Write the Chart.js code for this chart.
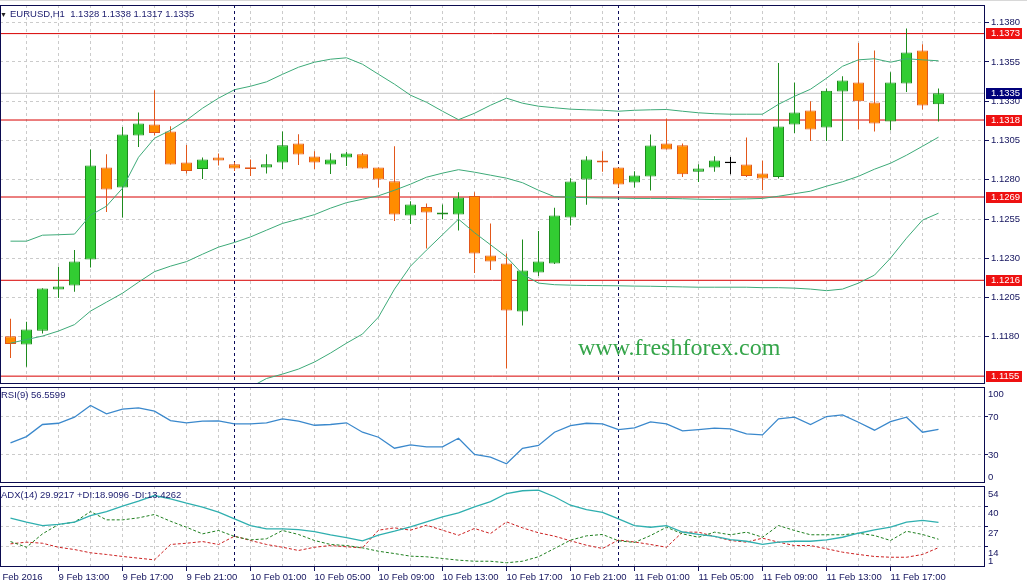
<!DOCTYPE html>
<html>
<head>
<meta charset="utf-8">
<script src="https://cdn.jsdelivr.net/npm/chart.js@4.4.1/dist/chart.umd.min.js"></script>
<style>
  html, body { margin: 0; padding: 0; background: #fff; }
  #wrap { position: relative; width: 1027px; height: 587px; overflow: hidden; font-family: 'Liberation Sans', Arial, sans-serif; border-top: 1px solid #d8d8d8; box-sizing: border-box; }
  canvas { position: absolute; left: 0; }
  #main { top: -1px; }
  #rsi { top: 384px; }
  #adx { top: 482px; }
  .lbl { position: absolute; font-size: 9.5px; line-height: 12px; color: #1c1c6e; white-space: pre; }
  #wm { position: absolute; left: 578px; top: 334px; font: 24px/24px 'Liberation Serif', 'Times New Roman', serif; color: #35a54a; white-space: pre; }
</style>
</head>
<body>
<div id="wrap">
  <canvas id="main" width="1027" height="385"></canvas>
  <canvas id="rsi" width="1027" height="98"></canvas>
  <canvas id="adx" width="1027" height="104"></canvas>
  <div class="lbl" style="left:0;top:8px;font-size:7px;color:#222">▼</div>
  <div class="lbl" style="left:10px;top:7px">EURUSD,H1  1.1328 1.1338 1.1317 1.1335</div>
  <div class="lbl" style="left:1px;top:388px">RSI(9) 56.5599</div>
  <div class="lbl" style="left:1px;top:488px">ADX(14) 29.9217 +DI:18.9096 -DI:13.4262</div>
  <div id="wm">www.freshforex.com</div>
</div>
<script>
// EURUSD H1, 9 Feb 10:00 .. 11 Feb 20:00
const opens = [1.11804,1.11752,1.11839,1.12102,1.12127,1.12293,1.12878,1.12751,1.13081,1.13151,
  1.13107,1.12910,1.12869,1.12941,1.12899,1.12880,1.12878,1.12910,1.13031,1.12948,
  1.12897,1.12941,1.12962,1.12878,1.12791,1.12572,1.12627,1.12579,1.12579,1.12697,
  1.12318,1.12267,1.11962,1.12210,1.12267,1.12560,1.12801,1.12922,1.12878,1.12782,
  1.12821,1.13030,1.13019,1.12850,1.12878,1.12910,1.12897,1.12840,1.12818,1.13151,
  1.13240,1.13132,1.13361,1.13418,1.13291,1.13170,1.13412,1.13622,1.13280];
const highs = [1.11916,1.11896,1.12110,1.12246,1.12352,1.12992,1.12962,1.13136,1.13228,1.13369,
  1.13140,1.13021,1.12941,1.12967,1.12911,1.12929,1.12962,1.13107,1.13090,1.12981,
  1.12969,1.12977,1.12970,1.12878,1.13013,1.12663,1.12649,1.12642,1.12721,1.12721,
  1.12522,1.12331,1.12420,1.12473,1.12621,1.12810,1.12950,1.12981,1.12878,1.12854,
  1.13088,1.13189,1.13031,1.12899,1.12950,1.12945,1.13069,1.12922,1.13543,1.13418,
  1.13299,1.13380,1.13458,1.13670,1.13622,1.13484,1.13762,1.13662,1.13380];
const lows = [1.11666,1.11610,1.11822,1.12048,1.12087,1.12242,1.12595,1.12560,1.13009,1.13081,
  1.12897,1.12840,1.12805,1.12890,1.12856,1.12824,1.12840,1.12869,1.12894,1.12869,
  1.12837,1.12888,1.12871,1.12751,1.12538,1.12519,1.12363,1.12549,1.12477,1.12207,
  1.12226,1.11599,1.11873,1.12188,1.12263,1.12509,1.12640,1.12850,1.12751,1.12751,
  1.12731,1.12992,1.12818,1.12786,1.12850,1.12835,1.12818,1.12733,1.12808,1.13098,
  1.13047,1.13047,1.13047,1.13120,1.13107,1.13115,1.13359,1.13247,1.13170];
const closes = [1.11755,1.11847,1.12108,1.12121,1.12280,1.12890,1.12738,1.13088,1.13158,1.13098,
  1.12897,1.12856,1.12929,1.12922,1.12871,1.12869,1.12899,1.13019,1.12960,1.12910,
  1.12929,1.12967,1.12871,1.12801,1.12579,1.12642,1.12592,1.12592,1.12687,1.12331,
  1.12280,1.11968,1.12223,1.12280,1.12572,1.12789,1.12929,1.12910,1.12770,1.12827,
  1.13018,1.12992,1.12835,1.12871,1.12922,1.12910,1.12824,1.12808,1.13139,1.13228,
  1.13120,1.13367,1.13431,1.13299,1.13158,1.13418,1.13609,1.13272,1.13350];

const bbUpper = [1.12409,1.12409,1.12447,1.12450,1.12454,1.12574,1.12632,1.12746,1.12943,1.13064,
  1.13115,1.13179,1.13255,1.13319,1.13373,1.13395,1.13423,1.13471,1.13516,1.13548,
  1.13567,1.13576,1.13535,1.13471,1.13408,1.13338,1.13293,1.13236,1.13182,1.13223,
  1.13274,1.13319,1.13287,1.13268,1.13258,1.13249,1.13245,1.13242,1.13236,1.13242,
  1.13245,1.13247,1.13236,1.13226,1.13220,1.13217,1.13217,1.13217,1.13280,1.13331,
  1.13376,1.13446,1.13522,1.13563,1.13570,1.13548,1.13570,1.13563,1.13557];
const bbMiddle = [1.11760,1.11783,1.11805,1.11837,1.11878,1.11964,1.12021,1.12078,1.12148,1.12215,
  1.12250,1.12279,1.12326,1.12371,1.12401,1.12436,1.12479,1.12522,1.12549,1.12578,
  1.12619,1.12654,1.12676,1.12698,1.12733,1.12772,1.12816,1.12842,1.12864,1.12848,
  1.12829,1.12810,1.12781,1.12733,1.12692,1.12689,1.12686,1.12684,1.12683,1.12681,
  1.12681,1.12681,1.12679,1.12676,1.12674,1.12676,1.12678,1.12681,1.12695,1.12711,
  1.12727,1.12759,1.12787,1.12822,1.12867,1.12905,1.12956,1.13013,1.13071];
const bbLower = [1.11112,1.11156,1.11163,1.11220,1.11302,1.11353,1.11398,1.11411,1.11353,1.11366,
  1.11385,1.11379,1.11398,1.11423,1.11430,1.11480,1.11535,1.11563,1.11595,1.11640,
  1.11697,1.11760,1.11818,1.11926,1.12104,1.12250,1.12352,1.12450,1.12549,1.12463,
  1.12386,1.12309,1.12199,1.12142,1.12132,1.12129,1.12127,1.12126,1.12125,1.12123,
  1.12122,1.12120,1.12118,1.12116,1.12116,1.12116,1.12116,1.12113,1.12113,1.12110,
  1.12104,1.12094,1.12104,1.12142,1.12193,1.12301,1.12428,1.12543,1.12587];

const rsi9 = [42.3,48.9,61.6,62.9,69.3,81.6,72.8,77.7,79.2,75.6,
  65.8,63.4,65.1,65.5,62.3,62.3,63.4,67.6,65.1,60.8,
  61.6,63.4,53.5,48.2,36.6,40.2,38.1,38.1,47.2,30.0,
  27.2,20.2,36.6,39.5,53.5,60.5,62.9,62.3,56.3,58.1,
  64.4,62.3,54.9,56.3,57.7,57.1,51.8,50.7,67.6,69.3,
  61.6,70.0,71.8,64.0,55.6,64.7,69.3,53.5,56.56];

const adx14 = [32.6,30.0,27.8,28.5,30.0,34.3,36.9,40.4,43.6,47.3,
  45.2,42.3,39.7,36.5,32.2,27.8,25.7,25.7,25.2,23.9,
  21.8,20.0,17.9,21.5,24.1,27.0,30.2,33.5,36.1,40.0,
  43.3,48.6,50.4,50.8,46.5,41.0,38.2,36.3,32.1,27.7,
  26.7,27.8,23.6,22.0,20.7,18.7,17.6,15.6,17.0,17.6,
  17.6,18.5,20.2,22.8,25.0,26.7,30.0,31.1,29.92];
const plusDI = [17.4,13.7,22.4,28.5,30.0,36.9,31.5,31.5,32.8,35.0,
  30.6,26.7,22.4,24.6,20.7,18.5,19.2,24.6,22.0,18.1,
  15.5,14.8,13.3,11.1,9.6,7.9,7.5,6.4,5.3,4.6,
  4.6,3.6,4.6,7.5,12.9,18.3,21.1,22.0,17.9,16.8,
  21.3,26.7,22.4,20.2,23.5,21.8,23.5,20.2,27.8,24.6,
  21.8,21.8,21.8,22.8,21.3,18.1,24.1,22.0,18.91];
const minusDI = [15.9,17.0,16.3,13.7,12.2,10.1,9.0,7.7,6.6,5.5,
  15.5,16.3,17.4,15.5,20.9,18.1,15.5,13.7,11.6,13.7,
  14.8,14.0,13.3,24.8,26.3,24.8,28.0,24.8,21.5,25.9,
  22.6,30.2,26.3,23.1,20.9,17.9,15.0,12.9,18.4,17.1,
  15.5,13.7,23.5,23.5,20.7,18.1,17.0,19.6,17.0,14.8,
  14.8,12.7,10.5,9.0,7.7,7.2,7.2,9.0,13.43];

const levels = [1.1373, 1.1318, 1.1269, 1.1216, 1.1155];
const bidPrice = 1.1335;
const priceTicks = [1.1180, 1.1205, 1.1230, 1.1255, 1.1280, 1.1305, 1.1330, 1.1355, 1.1380];
const rsiTicks = [30, 70];
const adxTicks = [14, 27, 40];
const gridIdx = [1,3,5,7,9,11,13,15,17,19,21,23,25,27,29,31,33,35,37,39,41,43,45,47,49,51,53,55,57,59];
const timeIdx = [-1, 3, 7, 11, 15, 19, 23, 27, 31, 35, 39, 43, 47, 51, 55];
const timeLabels = ['9 Feb 2016', '9 Feb 13:00', '9 Feb 17:00', '9 Feb 21:00', '10 Feb 01:00', '10 Feb 05:00',
  '10 Feb 09:00', '10 Feb 13:00', '10 Feb 17:00', '10 Feb 21:00', '11 Feb 01:00', '11 Feb 05:00',
  '11 Feb 09:00', '11 Feb 13:00', '11 Feb 17:00'];
const daySeparators = [14, 38];

const navy = '#14145e';
const gridColor = '#cbcbcb';
const axisFont = { family: "'Liberation Sans', Arial, sans-serif", size: 9.5 };
const idx = opens.map((_, i) => i);
const dir = idx.map(i => closes[i] > opens[i] ? 1 : closes[i] < opens[i] ? -1 : 0);
const bodyFill = dir.map(d => d > 0 ? '#32cd32' : d < 0 ? '#ff8c00' : '#000');
const bodyLine = dir.map(d => d > 0 ? '#1e8b1e' : d < 0 ? '#e2571a' : '#000');
const pts = arr => idx.map(i => ({ x: i, y: arr[i] }));

const noPad = s => { s.paddingTop = 0; s.paddingBottom = 0; s.paddingLeft = 0; s.paddingRight = 0; };

function xScale(showLabels) {
  return {
    type: 'linear', min: -0.65625, max: 60.90625, offset: false,
    afterBuildTicks: s => { s.ticks = (showLabels ? [timeIdx[0]] : []).concat(gridIdx).map(v => ({ value: v })); },
    afterFit: s => { s.height = showLabels ? 20 : 0; noPad(s); },
    grid: {
      offset: false, color: gridColor, lineWidth: 1, drawTicks: showLabels, tickLength: 4,
      tickColor: c => (c.tick && timeIdx.includes(c.tick.value)) ? navy : 'rgba(0,0,0,0)'
    },
    border: { display: false, dash: [3, 3] },
    ticks: {
      display: showLabels, autoSkip: false, maxRotation: 0, minRotation: 0, align: 'start', padding: 1,
      color: navy, font: axisFont,
      callback: v => { const k = timeIdx.indexOf(v); return k >= 0 ? timeLabels[k] : ''; }
    }
  };
}

function yScale(min, max, ticks, fmt, tickLength, padding, labelOffset) {
  return {
    type: 'linear', position: 'right', min, max,
    afterBuildTicks: s => { s.ticks = ticks.map(v => ({ value: v })); },
    afterFit: s => { s.width = 42; noPad(s); },
    grid: { color: gridColor, tickColor: navy, tickLength, drawTicks: true },
    border: { display: false, dash: [3, 3] },
    ticks: { color: navy, font: axisFont, padding, labelOffset, callback: fmt }
  };
}

const panel = {
  id: 'panel',
  beforeDatasetsDraw(chart) {
    const { ctx, chartArea: a, scales: { x } } = chart;
    ctx.save();
    ctx.strokeStyle = '#0c0c5a';
    ctx.lineWidth = 1;
    ctx.setLineDash([3, 3]);
    daySeparators.forEach(i => {
      const px = Math.floor(x.getPixelForValue(i)) + 0.5;
      ctx.beginPath(); ctx.moveTo(px, a.top); ctx.lineTo(px, a.bottom); ctx.stroke();
    });
    ctx.restore();
  },
  afterDraw(chart, args, opts) {
    const { ctx, chartArea: a } = chart;
    ctx.save();
    ctx.strokeStyle = '#0b0b50';
    ctx.lineWidth = 1;
    ctx.strokeRect(a.left + 0.5, a.top + 0.5, a.right - a.left - 1, a.bottom - a.top - 1);
    if (opts && opts.top) {
      ctx.fillStyle = navy;
      ctx.font = "9.5px 'Liberation Sans', Arial, sans-serif";
      ctx.textBaseline = 'middle';
      ctx.fillText(opts.top, a.right + 3, a.top + opts.topOff);
      ctx.fillText(opts.bottom, a.right + 3, a.bottom - opts.bottomOff);
    }
    ctx.restore();
  }
};

const priceTags = {
  id: 'priceTags',
  afterDraw(chart) {
    const { ctx, chartArea: a, scales: { y } } = chart;
    ctx.save();
    ctx.font = "9.5px 'Liberation Sans', Arial, sans-serif";
    ctx.textBaseline = 'middle';
    const tag = (v, bg) => {
      const py = Math.floor(y.getPixelForValue(v));
      ctx.fillStyle = bg;
      ctx.fillRect(a.right + 1, py - 5, 36, 11);
      ctx.fillStyle = '#fff';
      ctx.fillText(v.toFixed(4), a.right + 6, py + 0.5);
    };
    levels.forEach(v => tag(v, '#ee1111'));
    tag(bidPrice, '#00007a');
    ctx.restore();
  }
};

const common = {
  responsive: false, animation: false,
  events: [],
  plugins: { legend: { display: false }, tooltip: { enabled: false } }
};

const hline = (v, color) => ({
  type: 'line', data: [{ x: -2, y: v }, { x: 63, y: v }],
  borderColor: color, borderWidth: 1, pointRadius: 0, order: 6
});

new Chart(document.getElementById('main'), {
  type: 'bar',
  data: {
    datasets: [
      { type: 'bar', data: idx.map(i => ({ x: i, y: [lows[i], highs[i]] })), backgroundColor: bodyLine,
        barThickness: 1, grouped: false, inflateAmount: 0, borderWidth: 0, order: 5 },
      { type: 'bar', data: idx.map(i => ({ x: i, y: [opens[i], closes[i]] })), backgroundColor: bodyFill,
        borderColor: bodyLine, borderWidth: 1, borderSkipped: false, barThickness: 11, grouped: false,
        inflateAmount: 0, order: 4 },
      { type: 'line', data: idx.filter(i => dir[i] === 0).map(i => ({ x: i, y: opens[i] })), showLine: false,
        pointStyle: 'line', pointRadius: 5.5, pointBorderColor: '#000', pointBorderWidth: 1.2, order: 3 },
      { type: 'line', data: pts(bbUpper), borderColor: '#3daa78', borderWidth: 1, pointRadius: 0, order: 1 },
      { type: 'line', data: pts(bbMiddle), borderColor: '#3daa78', borderWidth: 1, pointRadius: 0, order: 1 },
      { type: 'line', data: pts(bbLower), borderColor: '#3daa78', borderWidth: 1, pointRadius: 0, order: 1 },
      ...levels.map(v => hline(v, '#d80000')),
      hline(bidPrice, '#c4c4c4')
    ]
  },
  options: {
    ...common,
    layout: { autoPadding: false, padding: { top: 5, bottom: 1, left: 0, right: 0 } },
    scales: {
      x: xScale(false),
      y: yScale(1.11500, 1.13912, priceTicks, v => v.toFixed(4), 4, 2, 0)
    }
  },
  plugins: [panel, priceTags]
});

new Chart(document.getElementById('rsi'), {
  type: 'line',
  data: {
    datasets: [
      { data: pts(rsi9), borderColor: '#3a88cc', borderWidth: 1.3, pointRadius: 0 }
    ]
  },
  options: {
    ...common,
    plugins: { ...common.plugins, panel: { top: '100', bottom: '0', topOff: 7, bottomOff: 6 } },
    layout: { autoPadding: false, padding: { top: 2, bottom: 0, left: 0, right: 0 } },
    scales: {
      x: xScale(false),
      y: yScale(0, 101.1, rsiTicks, v => String(v), 3, 0, 1)
    }
  },
  plugins: [panel]
});

new Chart(document.getElementById('adx'), {
  type: 'line',
  data: {
    datasets: [
      { data: pts(adx14), borderColor: '#2fafaf', borderWidth: 1.3, pointRadius: 0 },
      { data: pts(plusDI), borderColor: '#1f7f1f', borderWidth: 1, borderDash: [3, 2], pointRadius: 0 },
      { data: pts(minusDI), borderColor: '#cc2020', borderWidth: 1, borderDash: [3, 2], pointRadius: 0 }
    ]
  },
  options: {
    ...common,
    plugins: { ...common.plugins, panel: { top: '54', bottom: '1', topOff: 8, bottomOff: 6 } },
    layout: { autoPadding: false, padding: { top: 3, bottom: 0, left: 0, right: 0 } },
    scales: {
      x: xScale(true),
      y: yScale(0.86, 53.5, adxTicks, v => String(v), 3, 0, 7)
    }
  },
  plugins: [panel]
});
</script>
</body>
</html>
